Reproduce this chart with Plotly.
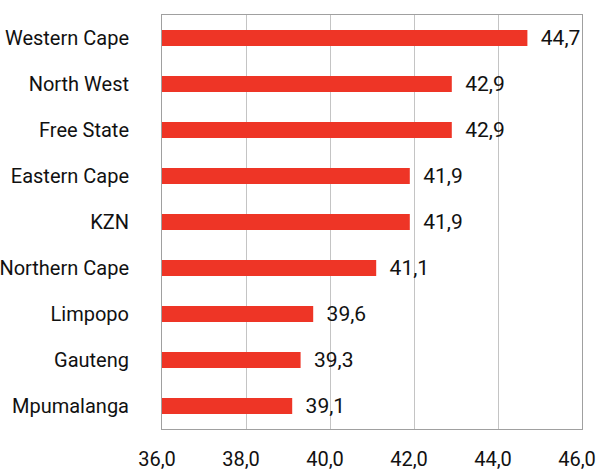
import plotly.graph_objects as go

provinces = ["Western Cape", "North West", "Free State", "Eastern Cape", "KZN",
             "Northern Cape", "Limpopo", "Gauteng", "Mpumalanga"]
values = [44.7, 42.9, 42.9, 41.9, 41.9, 41.1, 39.6, 39.3, 39.1]
tick_vals = [36, 38, 40, 42, 44, 46]
AXIS_START = 36

FONT = "Roboto, Liberation Sans, sans-serif"

fig = go.Figure(go.Bar(
    x=[v - AXIS_START for v in values], y=provinces, orientation="h",
    base=AXIS_START,
    width=0.35,
    marker=dict(color="#EE3526", line=dict(width=0)),
    text=["  " + f"{v:.1f}".replace(".", ",") for v in values],
    textposition="outside",
    constraintext="none",
    textfont=dict(family=FONT, size=21, color="#111111"),
    cliponaxis=False,
    hoverinfo="skip",
))

fig.update_layout(
    width=599, height=474,
    margin=dict(l=162, r=17, t=15, b=45),
    plot_bgcolor="white", paper_bgcolor="white",
    showlegend=False,
    separators=",.",
    font=dict(family=FONT, size=20, color="#111111"),
    xaxis=dict(
        range=[36, 46], tickvals=tick_vals, tickformat=".1f",
        showgrid=True, gridcolor="#c4c4c4", gridwidth=1,
        showline=True, linecolor="#a0a0a0", linewidth=1, mirror=True,
        zeroline=False, ticks="", ticklabelstandoff=12, automargin=False,
        ticklabeloverflow="allow", ticklabelshift=-5,
        tickfont=dict(family=FONT, size=20, color="#111111"),
    ),
    yaxis=dict(
        categoryorder="array", categoryarray=provinces, autorange="reversed",
        showgrid=False, showline=True, linecolor="#a0a0a0", linewidth=1, mirror=True,
        ticks="", ticklabelstandoff=28, automargin=False,
        ticklabeloverflow="allow",
        tickfont=dict(family=FONT, size=20, color="#111111"),
    ),
)

fig.write_html("out.html", config={"displayModeBar": False},
               post_script="document.body.style.margin='0';")
